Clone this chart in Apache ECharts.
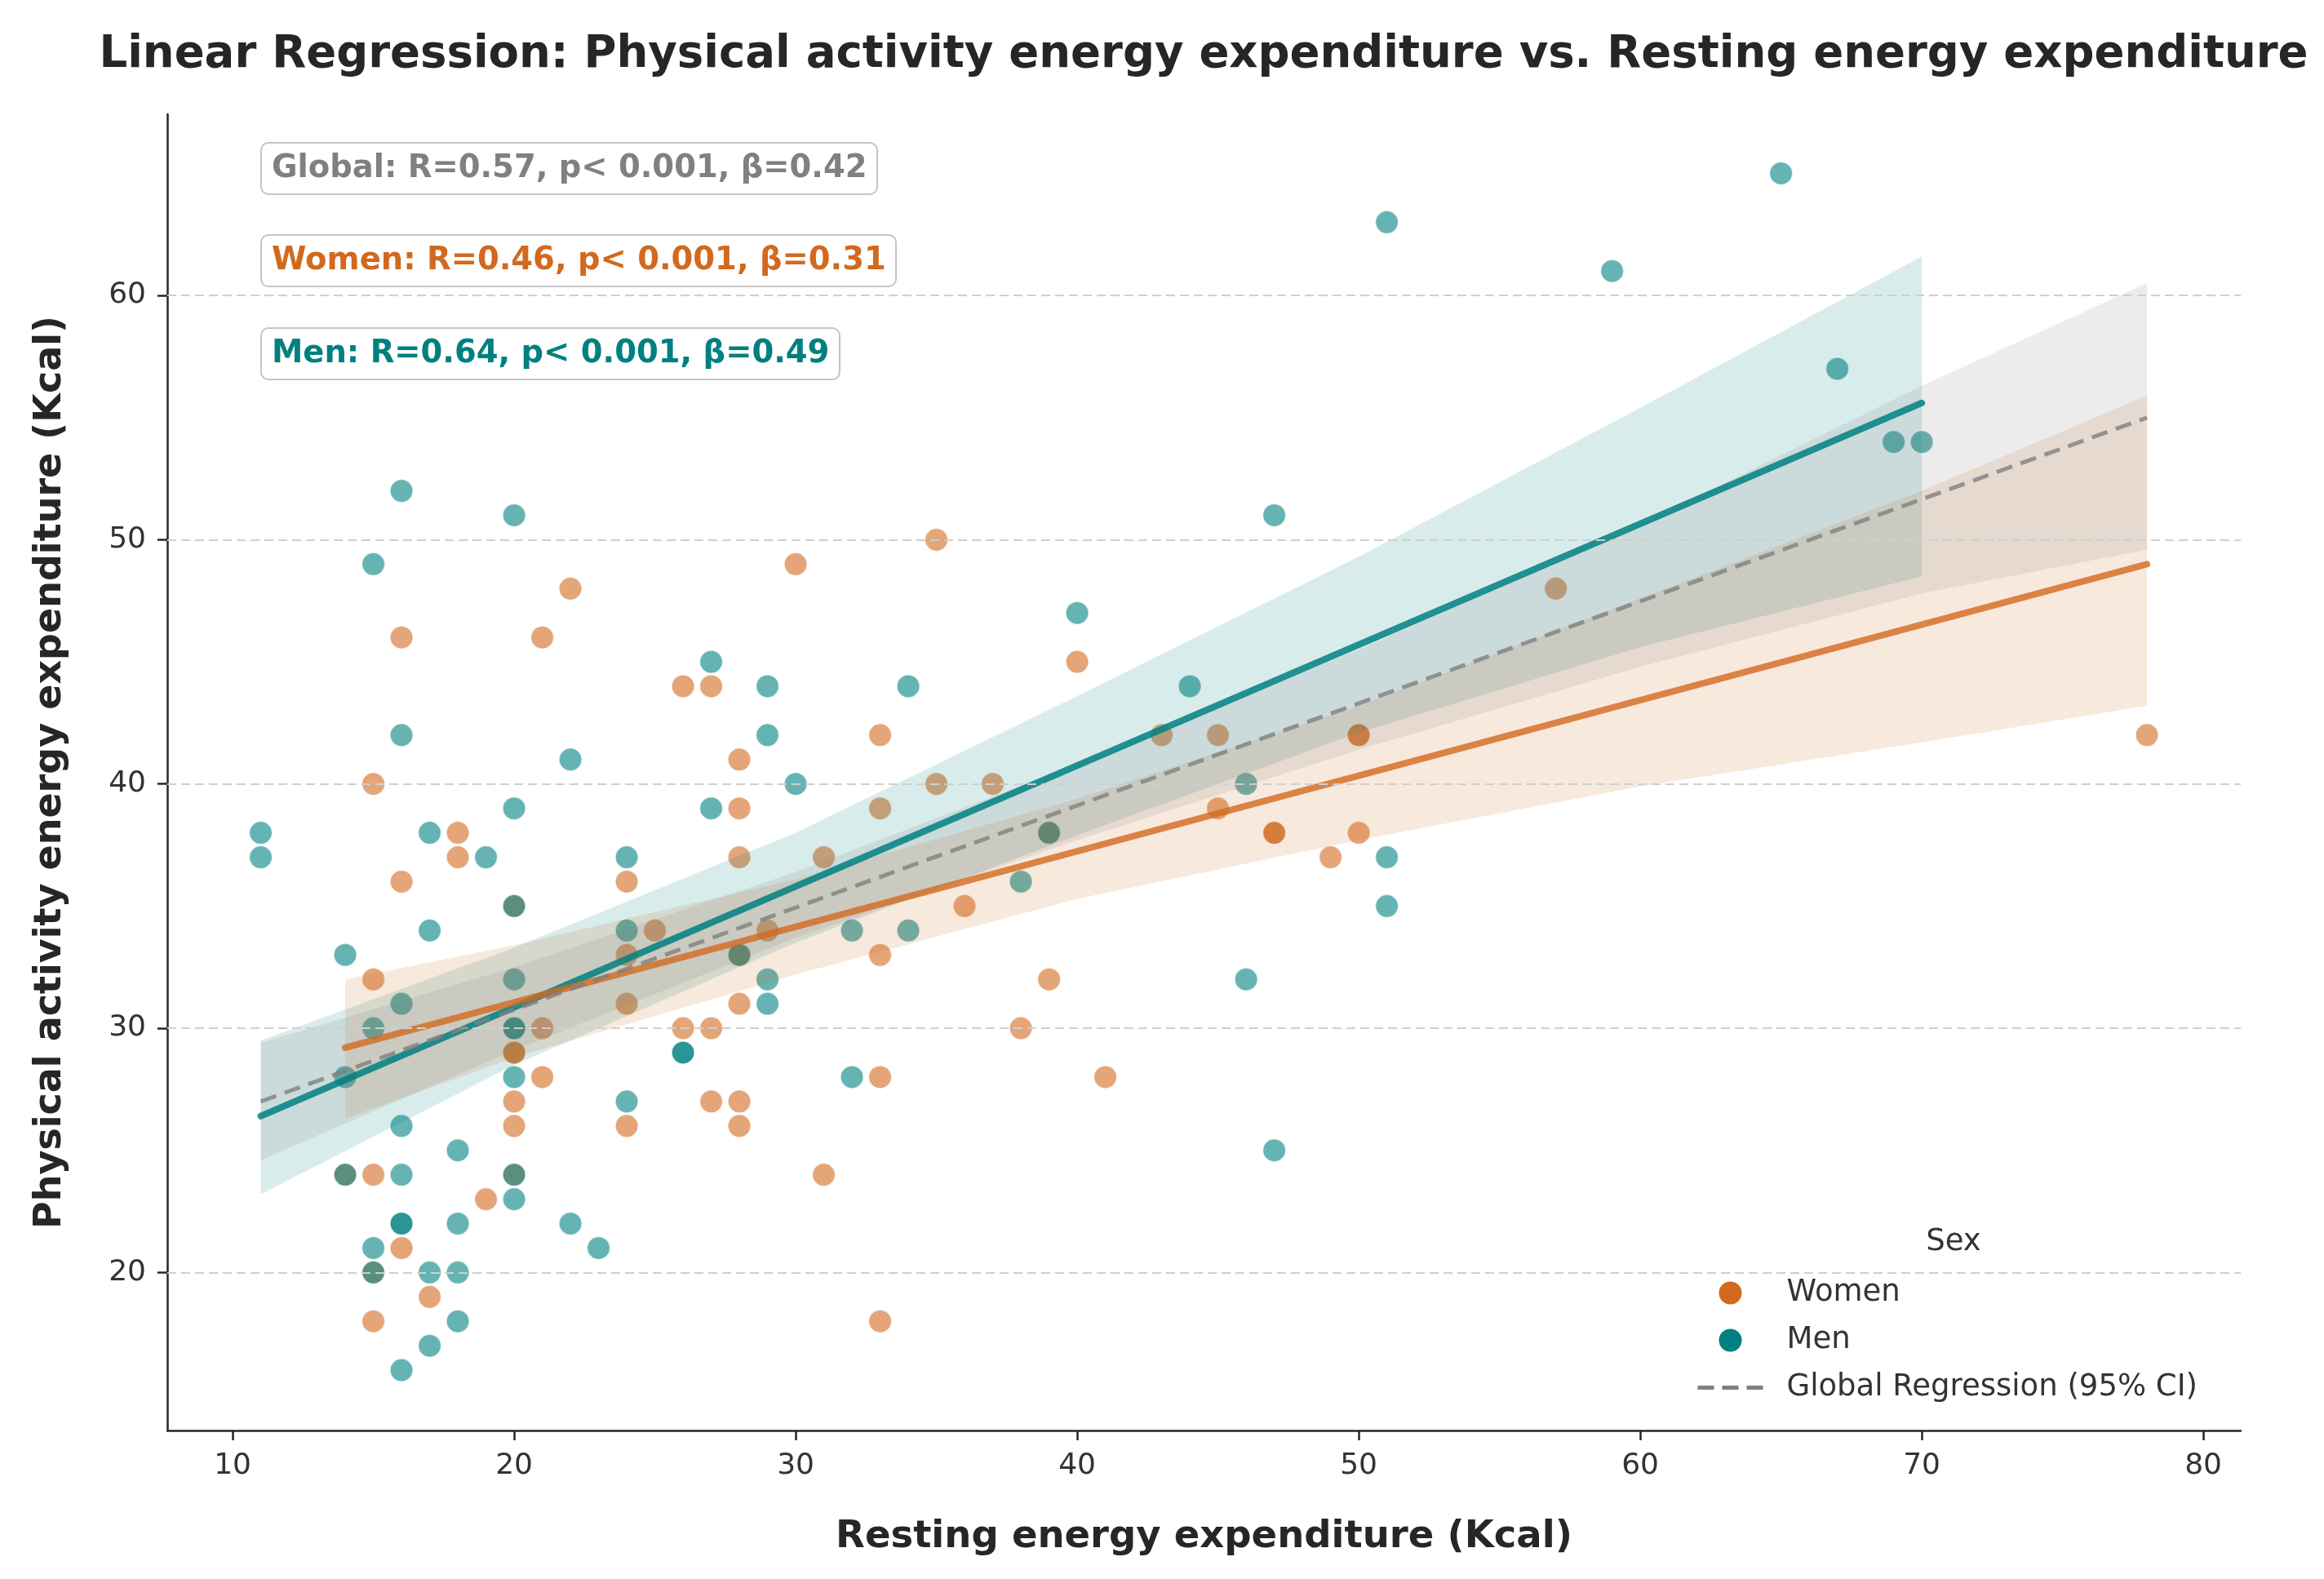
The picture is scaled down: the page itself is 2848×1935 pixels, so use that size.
<!DOCTYPE html>
<html><head><meta charset="utf-8">
<script src="https://cdn.jsdelivr.net/npm/echarts@6/dist/echarts.min.js"></script>
<style>html,body{margin:0;padding:0;background:#fff}#c{width:2848px;height:1935px}</style>
</head><body><div id="c"></div>
<script>
// ---- data ----
const womenRest = [14,15,15,15,15,15,16,16,16,17,18,18,19,20,20,20,20,20,20,21,21,21,22,24,24,24,24,25,26,26,27,27,27,28,28,28,28,28,28,28,29,30,31,31,33,33,33,33,33,35,35,36,37,38,39,39,40,41,43,45,45,47,47,49,50,50,50,57,78];
const womenPA   = [24,40,32,24,20,18,46,36,21,19,38,37,23,35,29,29,27,26,24,46,30,28,48,36,33,31,26,34,44,30,44,30,27,41,39,37,33,31,27,26,34,49,37,24,42,39,33,28,18,50,40,35,40,30,38,32,45,28,42,42,39,38,38,37,42,42,38,48,42];
const menRest = [11,11,14,14,14,15,15,15,15,16,16,16,16,16,16,16,16,17,17,17,17,18,18,18,18,19,20,20,20,20,20,20,20,20,20,22,22,23,24,24,24,26,26,27,27,28,29,29,29,29,30,32,32,34,34,38,39,40,44,46,46,47,47,51,51,51,59,65,67,69,70];
const menPA   = [38,37,33,28,24,49,30,21,20,52,42,31,26,24,22,22,16,38,34,20,17,25,22,20,18,37,51,39,35,32,30,30,28,24,23,41,22,21,37,34,27,29,29,45,39,33,44,42,32,31,40,34,28,44,34,36,38,47,44,40,32,51,25,63,37,35,61,65,57,54,54];

const menFitX = [11, 70];
const menFitY = [26.4, 55.6];
const womenFitX = [14, 78];
const womenFitY = [29.2, 49.0];
const globalFitX = [11, 78];
const globalFitY = [27.0, 55.0];

const menBandX  = [11, 20, 30, 40, 50, 60, 70];
const menBandLo = [23.2, 28.5, 33.5, 37.9, 42.1, 45.6, 48.5];
const menBandHi = [29.5, 33.3, 38.0, 43.6, 49.3, 55.4, 61.6];
const womenBandX  = [14, 20, 30, 40, 50, 60, 70, 78];
const womenBandLo = [26.3, 28.8, 32.2, 35.3, 37.7, 39.9, 41.7, 43.2];
const womenBandHi = [32.0, 33.4, 36.1, 39.4, 43.2, 47.6, 52.0, 55.9];
const globalBandX  = [11, 20, 30, 40, 50, 60, 70, 78];
const globalBandLo = [24.6, 29.1, 33.7, 37.7, 41.4, 44.8, 47.8, 49.6];
const globalBandHi = [29.4, 32.5, 36.4, 40.8, 45.5, 50.6, 56.3, 60.5];

const xTicks = [10, 20, 30, 40, 50, 60, 70, 80];
const yTicks = [20, 30, 40, 50, 60];

const titleText = 'Linear Regression: Physical activity energy expenditure vs. Resting energy expenditure';
const xName = 'Resting energy expenditure (Kcal)';
const yName = 'Physical activity energy expenditure (Kcal)';
const statGlobal = 'Global: R=0.57, p< 0.001, β=0.42';
const statWomen = 'Women: R=0.46, p< 0.001, β=0.31';
const statMen = 'Men: R=0.64, p< 0.001, β=0.49';
const legendTitle = 'Sex';
const globalName = 'Global Regression (95% CI)';

// ---- chart ----
const FONT = 'DejaVu Sans';
const WOMEN = '#D2691E', MEN = '#008080', GRAY = '#808080';
const pairs = (xs, ys) => xs.map((x, i) => [x, ys[i]]);
const rows = (xs, lo, hi) => xs.map((x, i) => [x, lo[i], hi[i]]);
function bandRenderer(fill) {
  return function (params, api) {
    if (params.dataIndexInside !== 0) return null;
    const n = params.dataInsideLength;
    const lower = [], upper = [];
    for (let j = 0; j < n; j++) {
      const x = api.value(0, j);
      lower.push(api.coord([x, api.value(1, j)]));
      upper.push(api.coord([x, api.value(2, j)]));
    }
    return { type: 'polygon', shape: { points: lower.concat(upper.reverse()) }, style: { fill: fill } };
  };
}
function statBox(text, color, top) {
  return {
    text: text, left: 320, top: top, padding: [12, 13],
    backgroundColor: 'rgba(255,255,255,0.85)', borderColor: '#c4c4c4', borderWidth: 2, borderRadius: 9,
    textStyle: { fontFamily: FONT, fontSize: 38.5, fontWeight: 'bold', color: color }
  };
}

const chart = echarts.init(document.getElementById('c'));
chart.setOption({
  animation: false,
  backgroundColor: '#ffffff',
  title: [
    { text: titleText, left: 1475, top: 40, textAlign: 'center', padding: 0,
      textStyle: { fontFamily: FONT, fontSize: 54.5, fontWeight: 'bold', color: '#262626' } },
    statBox(statGlobal, GRAY, 175),
    statBox(statWomen, WOMEN, 288),
    statBox(statMen, MEN, 402),
    { text: legendTitle, left: 2394, top: 1504, textAlign: 'center', padding: 0,
      textStyle: { fontFamily: FONT, fontSize: 37, fontWeight: 'normal', color: '#333' } }
  ],
  legend: {
    orient: 'vertical', left: 2078, top: 1566, padding: 0,
    itemWidth: 80, itemHeight: 28, itemGap: 21,
    textStyle: { fontFamily: FONT, fontSize: 37, color: '#333', padding: [0, 0, 0, 24] },
    data: [
      { name: 'Women', icon: 'circle', itemStyle: { color: WOMEN, opacity: 1, borderWidth: 0 } },
      { name: 'Men', icon: 'circle', itemStyle: { color: MEN, opacity: 1, borderWidth: 0 } },
      { name: globalName, itemStyle: { color: 'rgba(0,0,0,0)', borderWidth: 0, opacity: 0 },
        lineStyle: { color: GRAY, width: 5, opacity: 1, type: [20, 10] } }
    ]
  },
  grid: { left: 205, right: 102, top: 140, bottom: 182, containLabel: false },
  xAxis: {
    type: 'value', min: 7.68, max: 81.33,
    name: xName, nameLocation: 'middle', nameGap: 107,
    nameTextStyle: { fontFamily: FONT, fontSize: 46.5, fontWeight: 'bold', color: '#262626' },
    axisLine: { lineStyle: { color: '#262626', width: 2.5 } },
    axisTick: { show: true, length: 12, customValues: xTicks, lineStyle: { color: '#262626', width: 2.5 } },
    axisLabel: { customValues: xTicks, fontFamily: FONT, fontSize: 36, color: '#333', margin: 26 },
    splitLine: { show: false }
  },
  yAxis: {
    type: 'value', min: 13.53, max: 67.42,
    name: yName, nameLocation: 'middle', nameGap: 120, nameRotate: 90,
    nameTextStyle: { fontFamily: FONT, fontSize: 46, fontWeight: 'bold', color: '#262626' },
    axisLine: { show: true, lineStyle: { color: '#262626', width: 2.5 } },
    axisTick: { show: true, length: 12, customValues: yTicks, lineStyle: { color: '#262626', width: 2.5 } },
    axisLabel: { customValues: yTicks, fontFamily: FONT, fontSize: 36, color: '#333', margin: 26 },
    splitLine: { show: false }
  },
  series: [
    { type: 'line', name: 'grid', data: [], z: 1, silent: true,
      markLine: { silent: true, symbol: ['none', 'none'], label: { show: false },
        lineStyle: { color: '#cfcfcf', width: 2, type: [11, 6] },
        data: yTicks.map(v => ({ yAxis: v })) } },
    { type: 'scatter', name: 'Women', data: pairs(womenRest, womenPA), symbolSize: 28, z: 2,
      itemStyle: { color: WOMEN, opacity: 0.6, borderColor: '#ffffff', borderWidth: 1.5 } },
    { type: 'scatter', name: 'Men', data: pairs(menRest, menPA), symbolSize: 28, z: 2,
      itemStyle: { color: MEN, opacity: 0.6, borderColor: '#ffffff', borderWidth: 1.5 } },
    { type: 'custom', name: 'menBand', data: rows(menBandX, menBandLo, menBandHi), z: 3, silent: true,
      encode: { x: 0, y: [1, 2] }, renderItem: bandRenderer('rgba(0,128,128,0.15)') },
    { type: 'custom', name: 'womenBand', data: rows(womenBandX, womenBandLo, womenBandHi), z: 3, silent: true,
      encode: { x: 0, y: [1, 2] }, renderItem: bandRenderer('rgba(210,105,30,0.15)') },
    { type: 'custom', name: 'globalBand', data: rows(globalBandX, globalBandLo, globalBandHi), z: 3, silent: true,
      encode: { x: 0, y: [1, 2] }, renderItem: bandRenderer('rgba(128,128,128,0.15)') },
    { type: 'line', name: 'menFit', data: pairs(menFitX, menFitY), symbol: 'none', z: 4,
      lineStyle: { color: MEN, width: 8, opacity: 0.85, cap: 'round' } },
    { type: 'line', name: 'womenFit', data: pairs(womenFitX, womenFitY), symbol: 'none', z: 4,
      lineStyle: { color: WOMEN, width: 8, opacity: 0.8, cap: 'round' } },
    { type: 'line', name: globalName, data: pairs(globalFitX, globalFitY), symbol: 'none', z: 5,
      itemStyle: { color: 'rgba(0,0,0,0)' },
      lineStyle: { color: GRAY, width: 5, opacity: 0.8, type: [20, 11] } }
  ]
});
</script></body></html>
